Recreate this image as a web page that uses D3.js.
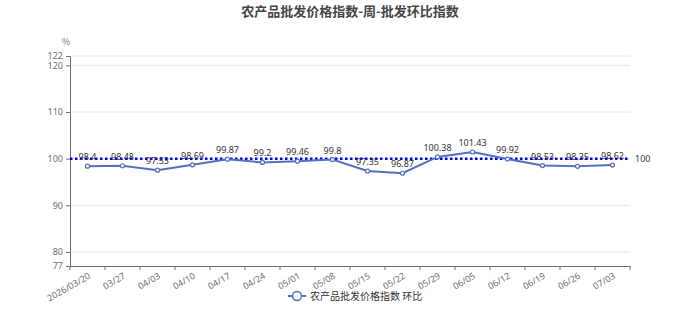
<!DOCTYPE html>
<html>
<head>
<meta charset="utf-8">
<script src="https://cdn.jsdelivr.net/npm/d3@7"></script>
<style>
  body { margin: 0; background: #fff; }
  svg { font-family: "Noto Sans CJK SC", "Noto Sans", sans-serif; }
</style>
</head>
<body>
<svg id="chart"></svg>
<script>
// chart data
const dates = ['2026/03/20', '03/27', '04/03', '04/10', '04/17', '04/24', '05/01', '05/08',
  '05/15', '05/22', '05/29', '06/05', '06/12', '06/19', '06/26', '07/03'];
const values = [98.4, 98.48, 97.53, 98.69, 99.87, 99.2, 99.46, 99.8,
  97.35, 96.87, 100.38, 101.43, 99.92, 98.53, 98.35, 98.62];
const yTicks = [77, 80, 90, 100, 110, 120, 122];
const refValue = 100;
const seriesName = '农产品批发价格指数 环比';
const title = '农产品批发价格指数-周-批发环比指数';

const width = 700, height = 315;
const margin = { top: 56, right: 70, bottom: 49, left: 70 };
const innerW = width - margin.left - margin.right;
const innerH = height - margin.top - margin.bottom;

const svg = d3.select('#chart').attr('width', width).attr('height', height);

const chart = svg.append('g')
  .attr('transform', `translate(${margin.left},${margin.top})`);

const xScale = d3.scaleBand().domain(dates).range([0, innerW]);
const yScale = d3.scaleLinear().domain([77, 122]).range([innerH, 0]);
const xc = d => xScale(d) + xScale.bandwidth() / 2;

// title
svg.append('text')
  .attr('x', width / 2).attr('y', 16)
  .attr('text-anchor', 'middle')
  .attr('font-size', 13).attr('font-weight', 'bold')
  .attr('fill', '#464646')
  .text(title);

// unit
svg.append('text')
  .attr('x', margin.left - 4).attr('y', 45)
  .attr('text-anchor', 'middle')
  .attr('font-size', 9).attr('fill', '#6e7079')
  .text('%');

// grid lines
chart.append('g').selectAll('line')
  .data(yTicks.filter(t => t !== 77))
  .join('line')
  .attr('x1', 0).attr('x2', innerW)
  .attr('y1', d => yScale(d)).attr('y2', d => yScale(d))
  .attr('stroke', '#e0e6f1');

// y axis
const yAxisG = chart.append('g')
  .call(d3.axisLeft(yScale).tickValues(yTicks).tickSize(4).tickPadding(3));
yAxisG.select('.domain').attr('stroke', '#6e7079');
yAxisG.selectAll('.tick line').attr('stroke', '#6e7079');
yAxisG.selectAll('.tick text').attr('fill', '#6e7079').attr('font-size', 9)
  .attr('font-family', '"Noto Sans", sans-serif');

// x axis
const xAxisG = chart.append('g')
  .attr('transform', `translate(0,${innerH})`)
  .call(d3.axisBottom(xScale).tickSize(0).tickFormat(''));
xAxisG.select('.domain').attr('stroke', '#6e7079');
xAxisG.selectAll('.tick').remove();

// boundary ticks
chart.append('g').selectAll('line')
  .data(d3.range(dates.length + 1))
  .join('line')
  .attr('x1', i => i * xScale.step()).attr('x2', i => i * xScale.step())
  .attr('y1', innerH).attr('y2', innerH + 4)
  .attr('stroke', '#6e7079');

// rotated labels
chart.append('g').selectAll('text')
  .data(dates)
  .join('text')
  .attr('transform', d => `translate(${xc(d) + 2},${innerH + 9}) rotate(-30)`)
  .attr('text-anchor', 'end')
  .attr('dy', '0.35em')
  .attr('font-size', 9)
  .attr('fill', '#6e7079')
  .attr('font-family', '"Noto Sans", sans-serif')
  .text(d => d);

// reference line at 100
chart.append('line')
  .attr('x1', 0).attr('x2', innerW)
  .attr('y1', yScale(refValue)).attr('y2', yScale(refValue))
  .attr('stroke', '#0000ff')
  .attr('stroke-width', 2.5)
  .attr('stroke-dasharray', '2.5,2.5');
chart.append('text')
  .attr('x', innerW + 5).attr('y', yScale(refValue))
  .attr('dy', '0.35em')
  .attr('font-size', 9).attr('fill', '#333')
  .attr('font-family', '"Noto Sans", sans-serif')
  .text(refValue);

// series line
const line = d3.line()
  .x((d, i) => xc(dates[i]))
  .y(d => yScale(d));

chart.append('path')
  .datum(values)
  .attr('d', line)
  .attr('fill', 'none')
  .attr('stroke', '#5470c6')
  .attr('stroke-width', 2);

chart.append('g').selectAll('circle')
  .data(values)
  .join('circle')
  .attr('cx', (d, i) => xc(dates[i]))
  .attr('cy', d => yScale(d))
  .attr('r', 2)
  .attr('fill', '#fff')
  .attr('stroke', '#5470c6')
  .attr('stroke-width', 1.2);

chart.append('g').selectAll('text')
  .data(values)
  .join('text')
  .attr('x', (d, i) => xc(dates[i]))
  .attr('y', d => yScale(d) - 6)
  .attr('text-anchor', 'middle')
  .attr('font-size', 9)
  .attr('fill', '#333')
  .attr('font-family', '"Noto Sans", sans-serif')
  .text(d => d);

// legend
const legend = svg.append('g').attr('transform', 'translate(288,296)');
legend.append('line')
  .attr('x1', 0).attr('x2', 18).attr('y1', 0).attr('y2', 0)
  .attr('stroke', '#5470c6').attr('stroke-width', 2);
legend.append('circle')
  .attr('cx', 9).attr('cy', 0).attr('r', 4.5)
  .attr('fill', '#fff').attr('stroke', '#5470c6').attr('stroke-width', 1.5);
legend.append('text')
  .attr('x', 22).attr('y', 0).attr('dy', '0.35em')
  .attr('font-size', 10).attr('fill', '#333')
  .text(seriesName);
</script>
</body>
</html>
